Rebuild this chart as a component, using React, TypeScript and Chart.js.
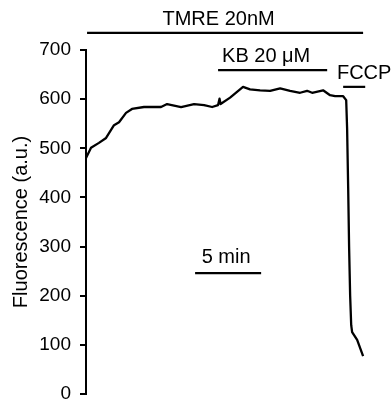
import React, { useEffect, useRef } from "react";
import { Chart, registerables } from "chart.js";

Chart.register(...registerables);

// time (min) and fluorescence (a.u.) of the trace
const times = [0, 0.38, 0.98, 1.52, 2.12, 2.5, 3.03, 3.48, 4.39, 5.68, 6.14, 7.2, 8.18, 8.94, 9.55, 10.0, 10.11, 10.19, 10.91, 11.89, 12.42, 13.18, 13.94, 14.7, 15.45, 16.21, 16.74, 17.12, 17.95, 18.48, 18.86, 19.47, 19.7, 19.77, 19.85, 19.92, 20.0, 20.08, 20.15, 20.53, 20.98];
const fluorescence = [480, 501, 511, 521, 547, 553, 572, 580, 584, 584, 590, 584, 590, 588, 584, 588, 601, 590, 603, 625, 620, 618, 617, 622, 617, 613, 617, 613, 618, 608, 606, 606, 598, 540, 420, 300, 200, 140, 126, 110, 77];

const yTicks = [0, 100, 200, 300, 400, 500, 600, 700];
const yTitle = "Fluorescence (a.u.)";

// treatment bars: label, start/end time (min), level (a.u.), label centre time
const barLabels = ["TMRE 20nM", "KB 20 μM", "FCCP", "5 min"];
const barStarts = [0.08, 10.0, 19.47, 8.26];
const barEnds = [20.98, 18.26, 21.14, 13.26];
const barLevels = [735, 659, 625, 246];
const barLabelCentres = [10.04, 13.64, 21.06, 10.61];

const FONT = '"Liberation Sans", Arial, Helvetica, sans-serif';

const barsPlugin = {
  id: "treatmentBars",
  afterDraw(chart: any) {
    const { ctx, scales } = chart;
    const xs = scales.x;
    const ys = scales.y;
    ctx.save();
    ctx.strokeStyle = "#000";
    ctx.fillStyle = "#000";
    ctx.lineWidth = 2.2;
    ctx.font = `20px ${FONT}`;
    ctx.textAlign = "center";
    ctx.textBaseline = "alphabetic";
    for (let i = 0; i < barLabels.length; i++) {
      const y = ys.getPixelForValue(barLevels[i]);
      const x1 = xs.getPixelForValue(barStarts[i]);
      const x2 = xs.getPixelForValue(barEnds[i]);
      ctx.beginPath();
      ctx.moveTo(x1, y);
      ctx.lineTo(x2, y);
      ctx.stroke();
      const gap = i === 3 ? 10 : 8;
      ctx.fillText(barLabels[i], xs.getPixelForValue(barLabelCentres[i]), y - gap);
    }
    ctx.restore();
  },
};

export default function App() {
  const ref = useRef<HTMLCanvasElement | null>(null);
  useEffect(() => {
    if (!ref.current) return;
    const chart = new Chart(ref.current, {
      type: "line",
      data: {
        datasets: [
          {
            data: times.map((t, i) => ({ x: t, y: fluorescence[i] })),
            borderColor: "#000",
            borderWidth: 2.3,
            pointRadius: 0,
            tension: 0,
            borderJoinStyle: "round",
            fill: false,
          },
        ],
      },
      options: {
        animation: false,
        responsive: true,
        maintainAspectRatio: false,
        layout: { padding: { left: 0, top: 50, right: 26, bottom: 9 } },
        plugins: { legend: { display: false }, tooltip: { enabled: false } },
        scales: {
          x: { type: "linear", min: 0, max: 21.2, display: false },
          y: {
            min: 0,
            max: 700,
            afterBuildTicks: (s: any) => {
              s.ticks = yTicks.map((v) => ({ value: v }));
            },
            afterFit: (s: any) => {
              s.width = 86;
              s.paddingTop = 0;
              s.paddingBottom = 0;
            },
            ticks: { color: "#000", font: { family: FONT, size: 19 }, padding: 9 },
            grid: { drawOnChartArea: false, drawTicks: true, tickLength: 6, color: "#000", lineWidth: 2 },
            border: { color: "#000", width: 2 },
            title: {
              display: true,
              text: yTitle,
              color: "#000",
              font: { family: FONT, size: 20 },
              padding: { top: 9, bottom: 0 },
            },
          },
        },
      },
      plugins: [barsPlugin],
    });
    return () => chart.destroy();
  }, []);
  return (
    <div style={{ position: "absolute", left: 0, top: 0, width: 392, height: 403, background: "#fff" }}>
      <canvas ref={ref} />
    </div>
  );
}
